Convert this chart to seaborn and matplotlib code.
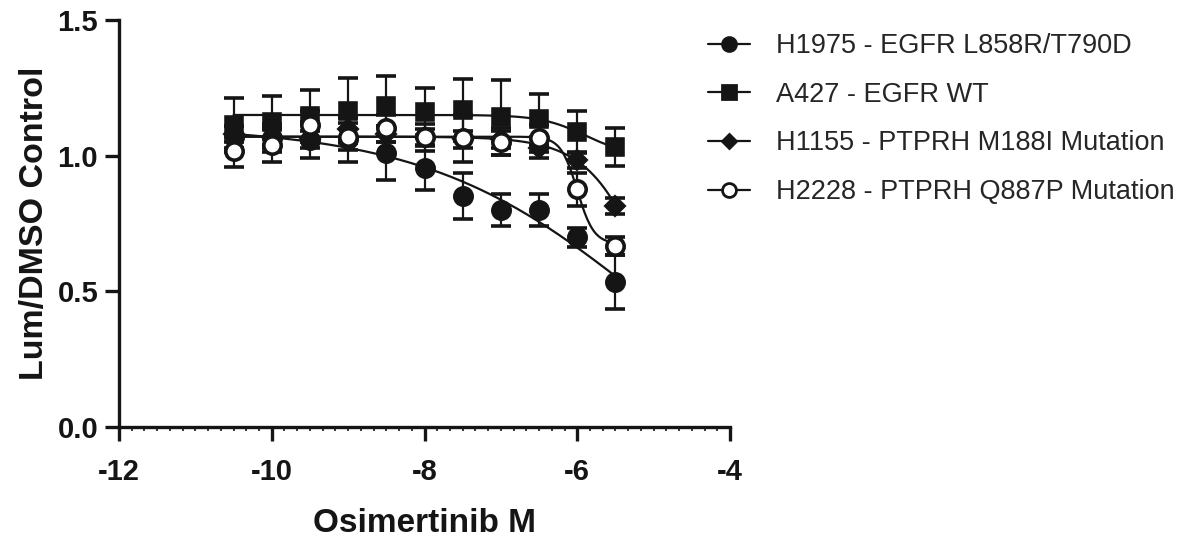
import numpy as np
import pandas as pd
import matplotlib
matplotlib.use("Agg")
import matplotlib.pyplot as plt
from matplotlib.lines import Line2D
from matplotlib.ticker import MultipleLocator
import seaborn as sns

# ---------------- data ----------------
log_conc = [-10.5, -10.0, -9.5, -9.0, -8.5, -8.0, -7.5, -7.0, -6.5, -6.0, -5.5]

series_names = ["H1975 - EGFR L858R/T790D", "A427 - EGFR WT",
                "H1155 - PTPRH M188I Mutation", "H2228 - PTPRH Q887P Mutation"]

h1975_mean = [1.07, 1.065, 1.058, 1.06, 1.01, 0.955, 0.85, 0.80, 0.80, 0.70, 0.535]
h1975_err = [0.04, 0.05, 0.065, 0.085, 0.10, 0.08, 0.085, 0.06, 0.06, 0.035, 0.10]

a427_mean = [1.113, 1.125, 1.146, 1.166, 1.183, 1.162, 1.168, 1.141, 1.134, 1.087, 1.033]
a427_err = [0.10, 0.095, 0.095, 0.12, 0.11, 0.086, 0.113, 0.138, 0.093, 0.078, 0.07]

h1155_mean = [1.08, 1.07, 1.06, 1.10, 1.08, 1.07, 1.06, 1.06, 1.03, 0.985, 0.815]
h1155_err = [0.03, 0.03, 0.03, 0.04, 0.03, 0.03, 0.03, 0.03, 0.04, 0.03, 0.03]

h2228_mean = [1.017, 1.039, 1.113, 1.07, 1.101, 1.068, 1.064, 1.052, 1.064, 0.876, 0.667]
h2228_err = [0.06, 0.063, 0.05, 0.05, 0.05, 0.05, 0.086, 0.05, 0.05, 0.06, 0.034]

means = [h1975_mean, a427_mean, h1155_mean, h2228_mean]
errs = [h1975_err, a427_err, h1155_err, h2228_err]

x_ticks = [-12, -10, -8, -6, -4]
y_ticks = [0.0, 0.5, 1.0, 1.5]

# ---------------- 4PL fit (least squares on a grid) ----------------
def four_pl(x, top, bottom, logc, hill):
    return bottom + (top - bottom) / (1.0 + 10 ** ((x - logc) * hill))

def fit_4pl(x, y):
    x = np.asarray(x)[None, None, None, :]
    y = np.asarray(y)
    tops = np.linspace(0.95, 1.25, 31)[:, None, None, None]
    bottoms = np.linspace(-0.5, 1.0, 61)[None, :, None, None]
    logcs = np.linspace(-10.0, -3.5, 131)[None, None, :, None]
    best = (np.inf, None)
    for h in np.linspace(0.2, 4.0, 39):
        pred = bottoms + (tops - bottoms) / (1.0 + 10 ** ((x - logcs) * h))
        sse = ((pred - y) ** 2).sum(axis=-1)
        idx = np.unravel_index(np.argmin(sse), sse.shape)
        if sse[idx] < best[0]:
            best = (sse[idx], (tops.ravel()[idx[0]], bottoms.ravel()[idx[1]],
                                logcs.ravel()[idx[2]], h))
    return best[1]

xs = np.linspace(min(log_conc), max(log_conc), 300)
curve_frames = []
for name, m in zip(series_names, means):
    p = fit_4pl(log_conc, m)
    curve_frames.append(pd.DataFrame({"x": xs, "y": four_pl(xs, *p), "series": name}))
curves = pd.concat(curve_frames, ignore_index=True)

# ---------------- style ----------------
sns.set_theme(style="ticks")
plt.rcParams["font.family"] = ["Liberation Sans", "DejaVu Sans"]
ink = "#151515"

fig = plt.figure(figsize=(12.01, 5.45), dpi=100)
ax = fig.add_axes([119 / 1201, 1 - 427 / 545, 611 / 1201, 407 / 545])

sns.lineplot(data=curves, x="x", y="y", hue="series", hue_order=series_names,
             palette=[ink] * 4, linewidth=1.6, legend=False, ax=ax, zorder=2)

markers = ["o", "s", "D", "o"]
msizes = [12.5, 12, 9.5, 12.5]
faces = [ink, ink, ink, "white"]
for m, e, mk, ms, fc in zip(means, errs, markers, msizes, faces):
    ax.errorbar(log_conc, m, yerr=e, fmt=mk, ms=ms, mfc=fc, mec=ink, mew=2.6,
                ecolor=ink, elinewidth=1.6, capsize=7.5, capthick=1.6, zorder=3)

ax.set_xlim(-12, -4)
ax.set_ylim(0, 1.5)
ax.set_xticks(x_ticks)
ax.set_yticks(y_ticks)
ax.set_xticklabels([f"{v:d}" for v in x_ticks])
ax.set_yticklabels([f"{v:.1f}" for v in y_ticks])
ax.xaxis.set_minor_locator(MultipleLocator(1 / 6))
for s in ["top", "right"]:
    ax.spines[s].set_visible(False)
for s in ["left", "bottom"]:
    ax.spines[s].set_linewidth(2.4)
    ax.spines[s].set_color(ink)
ax.tick_params(which="major", length=10, width=2.4, color=ink, direction="out",
               labelsize=21, labelcolor=ink, pad=5)
ax.tick_params(axis="x", which="major", pad=12)
ax.tick_params(axis="x", which="minor", length=3, width=1.2, color=ink)
for lab in ax.get_xticklabels() + ax.get_yticklabels():
    lab.set_fontweight("bold")

ax.set_xlabel("Osimertinib M", fontsize=24, fontweight="bold", color=ink, labelpad=16)
ax.set_ylabel("Lum/DMSO Control", fontsize=24.5, fontweight="bold", color=ink, labelpad=5)

handles = [Line2D([0], [0], color=ink, lw=1.6, marker=mk, ms=ms * 0.8, mfc=fc,
                  mec=ink, mew=2.0)
           for mk, ms, fc in zip(markers, msizes, faces)]
fig.legend(handles, series_names, loc="upper left",
           bbox_to_anchor=(708 / 1201, 1 - 33 / 545), frameon=False,
           fontsize=19.5, handlelength=1.55, handletextpad=0.95,
           labelspacing=0.84, borderpad=0, borderaxespad=0)

fig.savefig("out.png", dpi=100)
